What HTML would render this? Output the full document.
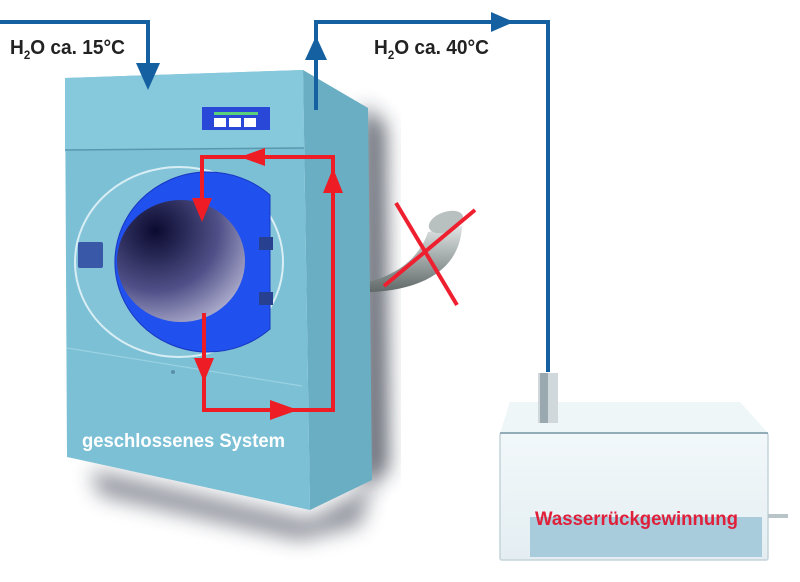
<!DOCTYPE html>
<html><head><meta charset="utf-8"><style>
html,body{margin:0;padding:0;background:#fff;}
svg{display:block;}
text{font-family:"Liberation Sans",sans-serif;font-weight:bold;}
</style></head><body>
<svg width="800" height="582" viewBox="0 0 800 582" xmlns="http://www.w3.org/2000/svg">
<defs>
<radialGradient id="hole" cx="0.3" cy="0.25" r="0.9">
<stop offset="0" stop-color="#0a0a30"/><stop offset="0.55" stop-color="#505088"/><stop offset="1" stop-color="#c0c0dc"/>
</radialGradient>
<linearGradient id="hose" x1="0" x2="0" y1="0" y2="1">
<stop offset="0" stop-color="#e0e4e4"/><stop offset="0.5" stop-color="#a0a8a8"/><stop offset="1" stop-color="#606868"/>
</linearGradient>
<linearGradient id="tank" x1="0" x2="0" y1="0" y2="1">
<stop offset="0" stop-color="#f2f8fa"/><stop offset="1" stop-color="#e4eef2"/>
</linearGradient>
<filter id="blur" x="-50%" y="-50%" width="200%" height="200%"><feGaussianBlur stdDeviation="10"/></filter>
</defs>
<polygon points="362,105 385,125 388,470 362,490" fill="#2a3040" filter="url(#blur)" opacity="0.75"/>
<polygon points="90,470 310,520 372,485 360,525 300,540 100,495" fill="#303848" filter="url(#blur)" opacity="0.55"/>
<path d="M368,282 C392,276 418,262 428,232 L462,226 C460,270 422,290 370,292 Z" fill="url(#hose)"/>
<ellipse cx="446" cy="222" rx="18" ry="10" fill="#b8c0c0" transform="rotate(-20 446 222)"/>
<polygon points="303,70 368,108 372,480 310,510" fill="#6aaec4"/>
<polygon points="65,78 303,70 310,510 67,457" fill="#7cc0d6"/>
<polygon points="65,78 303,70 304,148 65,150" fill="#86c8dc"/>
<line x1="65" y1="150" x2="304" y2="148" stroke="#5a98ae" stroke-width="1.5"/>
<line x1="67" y1="348" x2="302" y2="386" stroke="#9ad2e2" stroke-width="1.2"/>
<circle cx="173" cy="372" r="2" fill="#5a90a8"/>
<rect x="202" y="107" width="68" height="23" fill="#2a48d8"/>
<rect x="214" y="112" width="44" height="3" fill="#5ad07a"/>
<rect x="214" y="118" width="12" height="9" fill="#fff"/><rect x="229" y="118" width="12" height="9" fill="#fff"/><rect x="244" y="118" width="12" height="9" fill="#fff"/>
<ellipse cx="179" cy="262" rx="104" ry="95" fill="#84c4d8" stroke="#d8eef4" stroke-width="2"/>
<path d="M270,195 A93 90 0 1 0 270 329 Z" fill="#2050ee" stroke="#1838c0" stroke-width="1"/>
<ellipse cx="181" cy="261" rx="64" ry="61" fill="url(#hole)"/>
<rect x="78" y="242" width="25" height="26" fill="#3a58a8" rx="2"/>
<rect x="259" y="237" width="14" height="13" fill="#284090"/>
<rect x="259" y="292" width="14" height="13" fill="#284090"/>
<g stroke="#ee1c24" stroke-width="4" fill="none">
<polyline points="202,210 202,157 333,157 333,180"/>
<polyline points="333,190 333,410 204,410 204,375"/>
<line x1="204" y1="313" x2="204" y2="365"/>
</g>
<g fill="#ee1c24">
<polygon points="202,222 192,198 212,198"/>
<polygon points="240,157 265,148 265,166"/>
<polygon points="333,168 323,193 343,193"/>
<polygon points="204,382 194,358 214,358"/>
<polygon points="298,410 270,400 270,420"/>
</g>
<g stroke="#ee2030" stroke-width="4">
<line x1="396" y1="203" x2="457" y2="305"/>
<line x1="475" y1="210" x2="384" y2="286"/>
</g>
<g stroke="#1460a0" stroke-width="4" fill="none">
<polyline points="0,22 148,22 148,70"/>
<polyline points="316,110 316,22 548,22 548,372"/>
</g>
<g fill="#1460a0">
<polygon points="148,90 136,63 160,63"/>
<polygon points="316,36 305,60 327,60"/>
<polygon points="514,22 491,12 491,32"/>
</g>
<polygon points="510,402 740,402 768,433 500,433" fill="#eef6f8"/>
<rect x="500" y="433" width="268" height="127" fill="url(#tank)" stroke="#c4d4da" stroke-width="1.5" rx="2"/>
<line x1="500" y1="433" x2="768" y2="433" stroke="#7a9aa8" stroke-width="1.5"/>
<rect x="530" y="517" width="232" height="40" fill="#a8ccdc"/>
<rect x="768" y="514" width="20" height="4" fill="#b8c4c8"/>
<rect x="538" y="373" width="20" height="50" fill="#d0d8dc"/>
<rect x="540" y="373" width="8" height="50" fill="#9aa8b0"/>
<text x="10" y="54" font-size="20" fill="#222" textLength="115" lengthAdjust="spacingAndGlyphs">H<tspan font-size="12" dy="5">2</tspan><tspan dy="-5">O ca. 15°C</tspan></text>
<text x="374" y="54" font-size="20" fill="#222" textLength="115" lengthAdjust="spacingAndGlyphs">H<tspan font-size="12" dy="5">2</tspan><tspan dy="-5">O ca. 40°C</tspan></text>
<text x="82" y="447" font-size="19" fill="#fff" textLength="203" lengthAdjust="spacingAndGlyphs">geschlossenes System</text>
<text x="535" y="525" font-size="19" fill="#e0203a" textLength="203" lengthAdjust="spacingAndGlyphs">Wasserrückgewinnung</text>
</svg>
</body></html>
